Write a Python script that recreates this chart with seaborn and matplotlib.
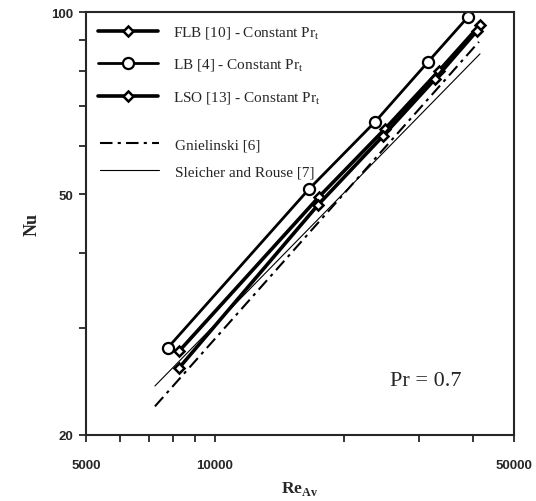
import numpy as np
import pandas as pd
import seaborn as sns
from matplotlib import pyplot as plt
from matplotlib.ticker import FixedLocator, NullFormatter, FixedFormatter
from matplotlib.lines import Line2D

# valores
re_flb = [8245, 17510, 24970, 33400, 41640]
nu_flb = [27.5, 49.5, 64.1, 80.0, 95.2]

re_lb = [7776, 16600, 23660, 31470, 39050]
nu_lb = [27.9, 51.0, 65.8, 82.7, 98.2]

re_lso = [8245, 17420, 24710, 32700, 40960]
nu_lso = [25.8, 48.0, 62.4, 77.5, 93.1]

re_gni = [7245, 41400]
nu_gni = [22.3, 89.3]

re_sr = [7245, 41640]
nu_sr = [24.1, 85.3]

x_ticks = [5000, 10000, 50000]
x_minor = [6000, 7000, 8000, 9000, 20000, 30000, 40000]
y_ticks = [20, 50, 100]
y_minor = [30, 40, 60, 70, 80, 90]

sns.set_style("ticks")
plt.rcParams['font.family'] = ['Liberation Serif', 'DejaVu Serif']
plt.rcParams['mathtext.fontset'] = 'custom'
plt.rcParams['mathtext.rm'] = 'Liberation Serif'
plt.rcParams['mathtext.bf'] = 'Liberation Serif:bold'

fig = plt.figure(figsize=(5.36, 5.02), dpi=100)
ax = fig.add_axes([0.1604, 0.1315, 0.7986, 0.8425])

def serie(x, y, **kw):
    df = pd.DataFrame({"re": x, "nu": y})
    sns.lineplot(data=df, x="re", y="nu", ax=ax, color="black", sort=False,
                 estimator=None, **kw)

serie(re_flb, nu_flb, linewidth=2.6, marker="D", markersize=5.5,
      markerfacecolor="white", markeredgecolor="black", markeredgewidth=1.8)
serie(re_lb, nu_lb, linewidth=2.0, marker="o", markersize=8,
      markerfacecolor="white", markeredgecolor="black", markeredgewidth=1.6)
serie(re_lso, nu_lso, linewidth=2.6, marker="D", markersize=5.5,
      markerfacecolor="white", markeredgecolor="black", markeredgewidth=1.8)
serie(re_gni, nu_gni, linewidth=1.5, linestyle=(0, (6, 2.5, 1.5, 2.5)))
serie(re_sr, nu_sr, linewidth=0.8)

ax.set_xscale("log")
ax.set_yscale("log")
ax.set_xlim(5000, 50000)
ax.set_ylim(20, 100)

ax.xaxis.set_major_locator(FixedLocator(x_ticks))
ax.xaxis.set_major_formatter(FixedFormatter([str(v) for v in x_ticks]))
ax.xaxis.set_minor_locator(FixedLocator(x_minor))
ax.xaxis.set_minor_formatter(NullFormatter())
ax.yaxis.set_major_locator(FixedLocator(y_ticks))
ax.yaxis.set_major_formatter(FixedFormatter([str(v) for v in y_ticks]))
ax.yaxis.set_minor_locator(FixedLocator(y_minor))
ax.yaxis.set_minor_formatter(NullFormatter())

ax.tick_params(which="both", direction="out", width=1.3, length=5,
               labelsize=9.5, pad=4)
ax.tick_params(axis="x", which="major", pad=12)
for lab in ax.get_xticklabels() + ax.get_yticklabels():
    lab.set_fontweight("bold")
    lab.set_family("Liberation Sans")
for s in ax.spines.values():
    s.set_linewidth(1.5)
    s.set_visible(True)

ax.set_xlabel(r"$\mathbf{Re}_{\mathbf{Av}}$", fontsize=12.5, labelpad=6)
ax.set_ylabel("Nu", fontsize=13, fontweight="bold", labelpad=8)

ax.text(0.794, 0.13, "Pr = 0.7", transform=ax.transAxes, fontsize=16,
        ha="center", va="center")

h1 = [Line2D([], [], color="black", linewidth=2.6, marker="D", markersize=5.5,
             markerfacecolor="white", markeredgewidth=1.8),
      Line2D([], [], color="black", linewidth=2.0, marker="o", markersize=8,
             markerfacecolor="white", markeredgewidth=1.6),
      Line2D([], [], color="black", linewidth=2.6, marker="D", markersize=5.5,
             markerfacecolor="white", markeredgewidth=1.8)]
l1 = ["FLB [10] - Constant Pr$_\\mathrm{t}$",
      "LB [4] - Constant Pr$_\\mathrm{t}$",
      "LSO [13] - Constant Pr$_\\mathrm{t}$"]
leg1 = ax.legend(h1, l1, loc="upper left", bbox_to_anchor=(0.0, 1.0),
                 frameon=False, fontsize=11, handlelength=3.9,
                 labelspacing=1.05, handletextpad=1.0, borderaxespad=0.4)
ax.add_artist(leg1)

h2 = [Line2D([], [], color="black", linewidth=1.5,
             linestyle=(0, (6, 2.5, 1.5, 2.5))),
      Line2D([], [], color="black", linewidth=0.8)]
l2 = ["Gnielinski [6]", "Sleicher and Rouse [7]"]
ax.legend(h2, l2, loc="upper left", bbox_to_anchor=(0.0, 0.735),
          frameon=False, fontsize=11, handlelength=3.9,
          labelspacing=0.85, handletextpad=1.0, borderaxespad=0.5)

fig.savefig("out.png", dpi=100)
